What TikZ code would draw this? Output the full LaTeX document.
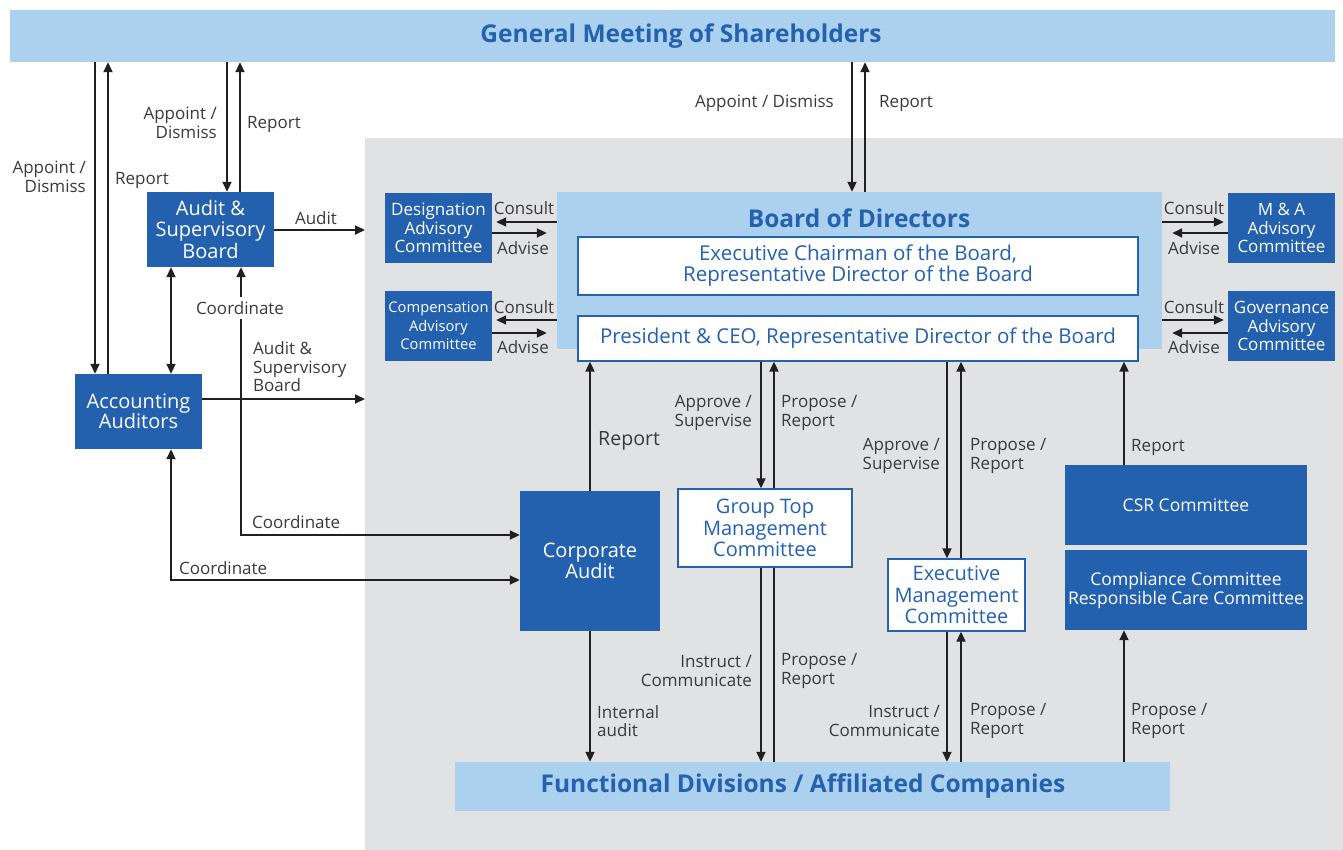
\documentclass[tikz,border=0pt]{standalone}
\usepackage{fontspec}
\setmainfont{Open Sans}
\usetikzlibrary{arrows.meta}
\definecolor{dblue}{HTML}{2361AE}
\definecolor{lblue}{HTML}{ABD1EE}
\definecolor{bgray}{HTML}{E1E2E4}
\definecolor{tblue}{HTML}{2461AF}
\definecolor{lgray}{HTML}{3A3A3A}
\definecolor{agray}{HTML}{231F20}
\newcommand{\fs}[2]{\fontsize{#1}{#2}\selectfont}
\begin{document}
\begin{tikzpicture}[x=1pt,y=-1pt,
  dbox/.style={fill=dblue, text=white, inner sep=0pt, align=center, font=\fs{20}{21.5}},
  sbox/.style={dbox, font=\fs{17}{18.5}},
  wbox/.style={fill=white, draw=tblue, line width=1.3pt, text=tblue, inner sep=0pt, align=center, font=\fs{20}{21.5}},
  lbox/.style={fill=lblue, inner sep=0pt, text=tblue, align=center},
  ttl/.style={text=tblue, inner sep=0pt, font=\bfseries\fs{24.5}{26}},
  lbl/.style={text=lgray, inner sep=0pt, font=\fs{17}{18.5}},
  lblr/.style={lbl, anchor=east, align=right},
  lbll/.style={lbl, anchor=west, align=left},
  arr/.style={line width=1.8pt, draw=agray, -{Triangle[length=10pt,width=9pt]}},
  darr/.style={line width=1.8pt, draw=agray, {Triangle[length=10pt,width=9pt]}-{Triangle[length=10pt,width=9pt]}},
  pline/.style={line width=1.8pt, draw=agray},
]
\useasboundingbox (0,0) rectangle (1343,850);
\fill[white] (0,0) rectangle (1343,850);
\fill[bgray] (365,138) rectangle (1343,850);

% main bars
\node[lbox, minimum width=1325pt, minimum height=52pt] (gms) at (672.5,36) {};
\node[ttl] (gmst) at (681,36) {General Meeting of Shareholders};
\node[lbox, minimum width=605pt, minimum height=157pt] (bod) at (859.5,270.5) {};
\node[ttl] (bodt) at (859,218) {Board of Directors};
\node[wbox, minimum width=560pt, minimum height=58pt, font=\fs{20.5}{21}] (ec) at (858,266) {Executive Chairman of the Board,\\Representative Director of the Board};
\node[wbox, minimum width=560pt, minimum height=45pt, font=\fs{20.5}{21}] (pres) at (858,338.5) {President \& CEO, Representative Director of the Board};
\node[lbox, minimum width=715pt, minimum height=49pt] (fd) at (812.5,786.5) {};
\node[ttl] (fdt) at (803,786) {Functional Divisions / Affiliated Companies};

% advisory committees
\node[sbox, minimum width=107pt, minimum height=70pt] (dac) at (438.5,228) {Designation\\Advisory\\Committee};
\node[sbox, minimum width=107pt, minimum height=70pt, font=\fs{14.7}{18.5}] (cac) at (438.5,326) {Compensation\\Advisory\\Committee};
\node[sbox, minimum width=107pt, minimum height=70pt] (mac) at (1281.5,228) {M \& A\\Advisory\\Committee};
\node[sbox, minimum width=107pt, minimum height=70pt] (gac) at (1281.5,326) {Governance\\Advisory\\Committee};

% left side
\node[dbox, minimum width=127pt, minimum height=75pt] (asb) at (210.5,229.5) {Audit \&\\Supervisory\\Board};
\node[dbox, minimum width=127pt, minimum height=75pt, font=\fs{20}{20.5}] (acc) at (138.5,411.5) {Accounting\\Auditors};

% lower
\node[dbox, minimum width=140pt, minimum height=140pt] (ca) at (590,561) {Corporate\\Audit};
\node[wbox, minimum width=174pt, minimum height=78pt] (gtmc) at (765,528) {Group Top\\Management\\Committee};
\node[wbox, minimum width=137pt, minimum height=72pt] (emc) at (956.5,595) {Executive\\Management\\Committee};
\node[dbox, minimum width=242pt, minimum height=80pt, font=\fs{17.5}{19}] (csr) at (1186,505) {CSR Committee};
\node[dbox, minimum width=242pt, minimum height=80pt, font=\fs{17.5}{19}] (comp) at (1186,590) {Compliance Committee\\Responsible Care Committee};

% free ends on the grey area edge
\coordinate (gaudit) at (365,230);
\coordinate (gacc) at (365,399);

% shareholders connectors
\draw[arr] (gms.south -| 95,0) -- (acc.north -| 95,0);
\draw[arr] (acc.north -| 108,0) -- (gms.south -| 108,0);
\draw[arr] (gms.south -| 227,0) -- (asb.north -| 227,0);
\draw[arr] (asb.north -| 240,0) -- (gms.south -| 240,0);
\draw[arr] (gms.south -| 852,0) -- (bod.north -| 852,0);
\draw[arr] (bod.north -| 865,0) -- (gms.south -| 865,0);

% audit board / accounting auditors
\draw[arr] (asb.east |- gaudit) -- (gaudit);
\draw[darr] (asb.south -| 171,0) -- (acc.north -| 171,0);
\draw[darr] (asb.south -| 241,0) -- (241,535) -- (ca.west |- 0,535);
\draw[arr] (acc.east |- gacc) -- (gacc);
\draw[darr] (acc.south -| 171,0) -- (171,580) -- (ca.west |- 0,580);

% advisory consult / advise
\draw[arr, shorten >=4pt] (bod.west |- 0,222) -- (dac.east |- 0,222);
\draw[arr, shorten >=10pt] (dac.east |- 0,233) -- (bod.west |- 0,233);
\draw[arr, shorten >=4pt] (bod.west |- 0,320) -- (cac.east |- 0,320);
\draw[arr, shorten >=10pt] (cac.east |- 0,333) -- (bod.west |- 0,333);
\draw[arr, shorten >=4pt] (bod.east |- 0,222) -- (mac.west |- 0,222);
\draw[arr, shorten >=10pt] (mac.west |- 0,233) -- (bod.east |- 0,233);
\draw[arr, shorten >=4pt] (bod.east |- 0,320) -- (gac.west |- 0,320);
\draw[arr, shorten >=10pt] (gac.west |- 0,333) -- (bod.east |- 0,333);

% lower connectors
\draw[arr] (ca.north) -- (pres.south -| ca.north);
\draw[arr] (ca.south) -- (fd.north -| ca.south);
\draw[arr] (pres.south -| 761,0) -- (gtmc.north -| 761,0);
\draw[arr] (gtmc.north -| 774,0) -- (pres.south -| 774,0);
\draw[arr] (gtmc.south -| 761,0) -- (fd.north -| 761,0);
\draw[pline] (gtmc.south -| 774,0) -- (fd.north -| 774,0);
\draw[arr] (pres.south -| 947,0) -- (emc.north -| 947,0);
\draw[arr] (emc.north -| 961,0) -- (pres.south -| 961,0);
\draw[arr] (emc.south -| 947,0) -- (fd.north -| 947,0);
\draw[arr] (fd.north -| 961,0) -- (emc.south -| 961,0);
\draw[arr] (csr.north -| 1124,0) -- (pres.south -| 1124,0);
\draw[arr] (fd.north -| 1124,0) -- (comp.south -| 1124,0);

% labels
\node[lblr] (l1) at (86,177) {Appoint /\\Dismiss};
\node[lbll] (l2) at (115,180) {Report};
\node[lblr] (l3) at (217,123) {Appoint /\\Dismiss};
\node[lbll] (l4) at (247,124) {Report};
\node[lbl] (l5) at (316,218) {Audit};
\node[lbl, fill=white, inner ysep=4pt, inner xsep=1pt] (l6) at (240,308) {Coordinate};
\node[lbll] (l7) at (253,367) {Audit \&\\Supervisory\\Board};
\node[lbll] (l8) at (252,522) {Coordinate};
\node[lbll] (l9) at (179,568) {Coordinate};
\node[lblr] (l10) at (834,103) {Appoint / Dismiss};
\node[lbll] (l11) at (879,103) {Report};
\node[lbl] (c1) at (524,208) {Consult};
\node[lbl] (a1) at (523,248) {Advise};
\node[lbl] (c2) at (524,307) {Consult};
\node[lbl] (a2) at (523,347) {Advise};
\node[lbl] (c3) at (1194,208) {Consult};
\node[lbl] (a3) at (1194,248) {Advise};
\node[lbl] (c4) at (1194,307) {Consult};
\node[lbl] (a4) at (1194,347) {Advise};
\node[lbll, font=\fs{19.6}{22}] (l12) at (598,441) {Report};
\node[lblr] (l13) at (752,413) {Approve /\\Supervise};
\node[lbll] (l14) at (781,413) {Propose /\\Report};
\node[lblr] (l15) at (940,456) {Approve /\\Supervise};
\node[lbll] (l16) at (970,456) {Propose /\\Report};
\node[lbll] (l17) at (1131,447) {Report};
\node[lbll] (l18) at (597,721) {Internal\\audit};
\node[lblr] (l19) at (752,671) {Instruct /\\Communicate};
\node[lbll] (l20) at (781,671) {Propose /\\Report};
\node[lblr] (l21) at (940,721) {Instruct /\\Communicate};
\node[lbll] (l22) at (970,721) {Propose /\\Report};
\node[lbll] (l23) at (1131,721) {Propose /\\Report};
\end{tikzpicture}
\end{document}
